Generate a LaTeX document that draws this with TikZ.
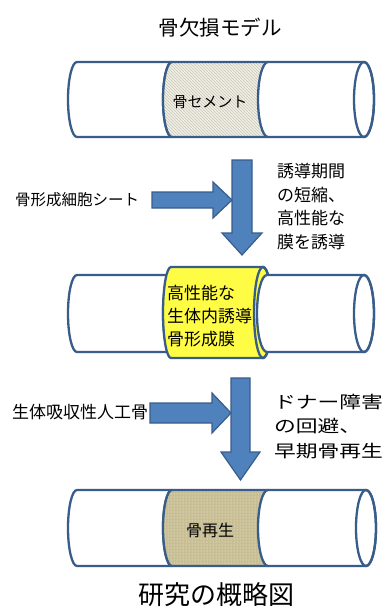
\documentclass[tikz,border=0pt]{standalone}
\usepackage{fontspec}
\setmainfont{Noto Sans CJK JP}
\usepackage{graphicx}
\usetikzlibrary{patterns}

\definecolor{cylline}{RGB}{56,93,138}
\definecolor{arrowfill}{RGB}{79,129,189}
\definecolor{membrane}{RGB}{255,252,70}
\definecolor{regen}{RGB}{200,190,148}
\definecolor{cementbg}{RGB}{241,240,232}
\definecolor{cementline}{RGB}{200,197,180}

\tikzset{
  cyl/.style={draw=cylline, line width=2.3pt, line join=round, fill=white},
  rim/.style={draw=cylline, line width=2.3pt},
  blockarrow/.style={draw=cylline, line width=1.2pt, fill=arrowfill, line join=miter},
  lbl/.style={inner sep=0pt, font=\fontsize{#1}{#1}\selectfont},
  para/.style={inner sep=0pt, align=left, anchor=north west},
}

\begin{document}
\begin{tikzpicture}[x=1pt,y=1pt]
\useasboundingbox (0,0) rectangle (388,-614);
\fill[white] (0,0) rectangle (388,-614);

% ---- title ----
\node[lbl=20.5] (title) at (220,-28) {骨欠損モデル};

% ---- bone defect filled with cement ----
\draw[cyl] (77,-62) -- (172,-62) arc[start angle=90,end angle=270,x radius=9,y radius=37.5]
  -- (77,-137) arc[start angle=270,end angle=90,x radius=9,y radius=37.5] -- cycle;
\path[fill=cementbg] (172,-62) -- (268,-62) -- (268,-137) -- (172,-137)
  arc[start angle=270,end angle=90,x radius=9,y radius=37.5] -- cycle;
\path[pattern=north west lines, pattern color=cementline] (172,-62) -- (268,-62) -- (268,-137) -- (172,-137)
  arc[start angle=270,end angle=90,x radius=9,y radius=37.5] -- cycle;
\draw[rim] (268,-62) -- (172,-62) arc[start angle=90,end angle=270,x radius=9,y radius=37.5] -- (268,-137);
\draw[cyl] (268,-62) -- (364,-62) arc[start angle=90,end angle=-90,x radius=10,y radius=37.5]
  -- (268,-137) arc[start angle=270,end angle=90,x radius=10,y radius=37.5] -- cycle;
\draw[rim] (364,-99.5) ellipse[x radius=10,y radius=37.5];
\node[lbl=15] (cement) at (210,-102) {骨セメント};

% ---- step 1 arrows ----
\draw[blockarrow] (152,-192) -- (213,-192) -- (213,-182) -- (232,-200) -- (213,-218)
  -- (213,-208) -- (152,-208) -- cycle;
\draw[blockarrow] (232,-160) -- (252,-160) -- (252,-233) -- (262,-233) -- (242,-255)
  -- (222,-233) -- (232,-233) -- cycle;
\node[lbl=15.5, anchor=west] (sheet) at (15,-200) {骨形成細胞シート};
\node[para, font=\fontsize{17}{23.7}\selectfont] (effect1) at (277,-163)
  {誘導期間\\の短縮、\\高性能な\\膜を誘導};

% ---- induced membrane ----
\draw[cyl] (77,-275) -- (172,-275) arc[start angle=90,end angle=270,x radius=9,y radius=38.5]
  -- (77,-352) arc[start angle=270,end angle=90,x radius=9,y radius=38.5] -- cycle;
\draw[cyl, fill=membrane] (171,-267) -- (263,-267) arc[start angle=90,end angle=-90,x radius=9,y radius=45.5]
  -- (171,-358) arc[start angle=270,end angle=90,x radius=8,y radius=45.5] -- cycle;
\draw[rim] (263,-312.5) ellipse[x radius=9,y radius=45.5];
\draw[cyl] (267,-275) -- (364,-275) arc[start angle=90,end angle=-90,x radius=10,y radius=38.5]
  -- (267,-352) arc[start angle=270,end angle=90,x radius=10,y radius=38.5] -- cycle;
\draw[rim] (364,-313.5) ellipse[x radius=10,y radius=38.5];
\node[para, font=\fontsize{17}{23}\selectfont] (membranetext) at (167,-285)
  {高性能な\\生体内誘導\\骨形成膜};

% ---- step 2 arrows ----
\draw[blockarrow] (150,-403) -- (212,-403) -- (212,-393) -- (231,-413) -- (212,-433)
  -- (212,-423) -- (150,-423) -- cycle;
\draw[blockarrow] (231,-378) -- (250,-378) -- (250,-452) -- (260,-452) -- (240.5,-480)
  -- (221,-452) -- (231,-452) -- cycle;
\node[lbl=17, anchor=west] (artbone) at (12,-412) {生体吸収性人工骨};
\node[para, font=\fontsize{17}{24.5}\selectfont] (effect2) at (274,-394)
  {\scalebox{1.28}[1]{ドナー障害}\\\scalebox{1.28}[1]{の回避、}\\\scalebox{1.28}[1]{早期骨再生}};

% ---- regenerated bone ----
\draw[cyl] (77,-490) -- (172,-490) arc[start angle=90,end angle=270,x radius=9,y radius=38]
  -- (77,-566) arc[start angle=270,end angle=90,x radius=9,y radius=38] -- cycle;
\path[fill=regen] (172,-490) -- (268,-490) -- (268,-566) -- (172,-566)
  arc[start angle=270,end angle=90,x radius=9,y radius=38] -- cycle;
\path[pattern=dots, pattern color=white!85!regen] (172,-490) -- (268,-490) -- (268,-566) -- (172,-566)
  arc[start angle=270,end angle=90,x radius=9,y radius=38] -- cycle;
\draw[rim] (268,-490) -- (172,-490) arc[start angle=90,end angle=270,x radius=9,y radius=38] -- (268,-566);
\draw[cyl] (268,-490) -- (366,-490) arc[start angle=90,end angle=-90,x radius=10,y radius=38]
  -- (268,-566) arc[start angle=270,end angle=90,x radius=10,y radius=38] -- cycle;
\draw[rim] (366,-528) ellipse[x radius=10,y radius=38];
\node[lbl=16] (regentext) at (210,-530) {骨再生};

% ---- caption ----
\node[lbl=26] (caption) at (216,-595) {研究の概略図};
\end{tikzpicture}
\end{document}
